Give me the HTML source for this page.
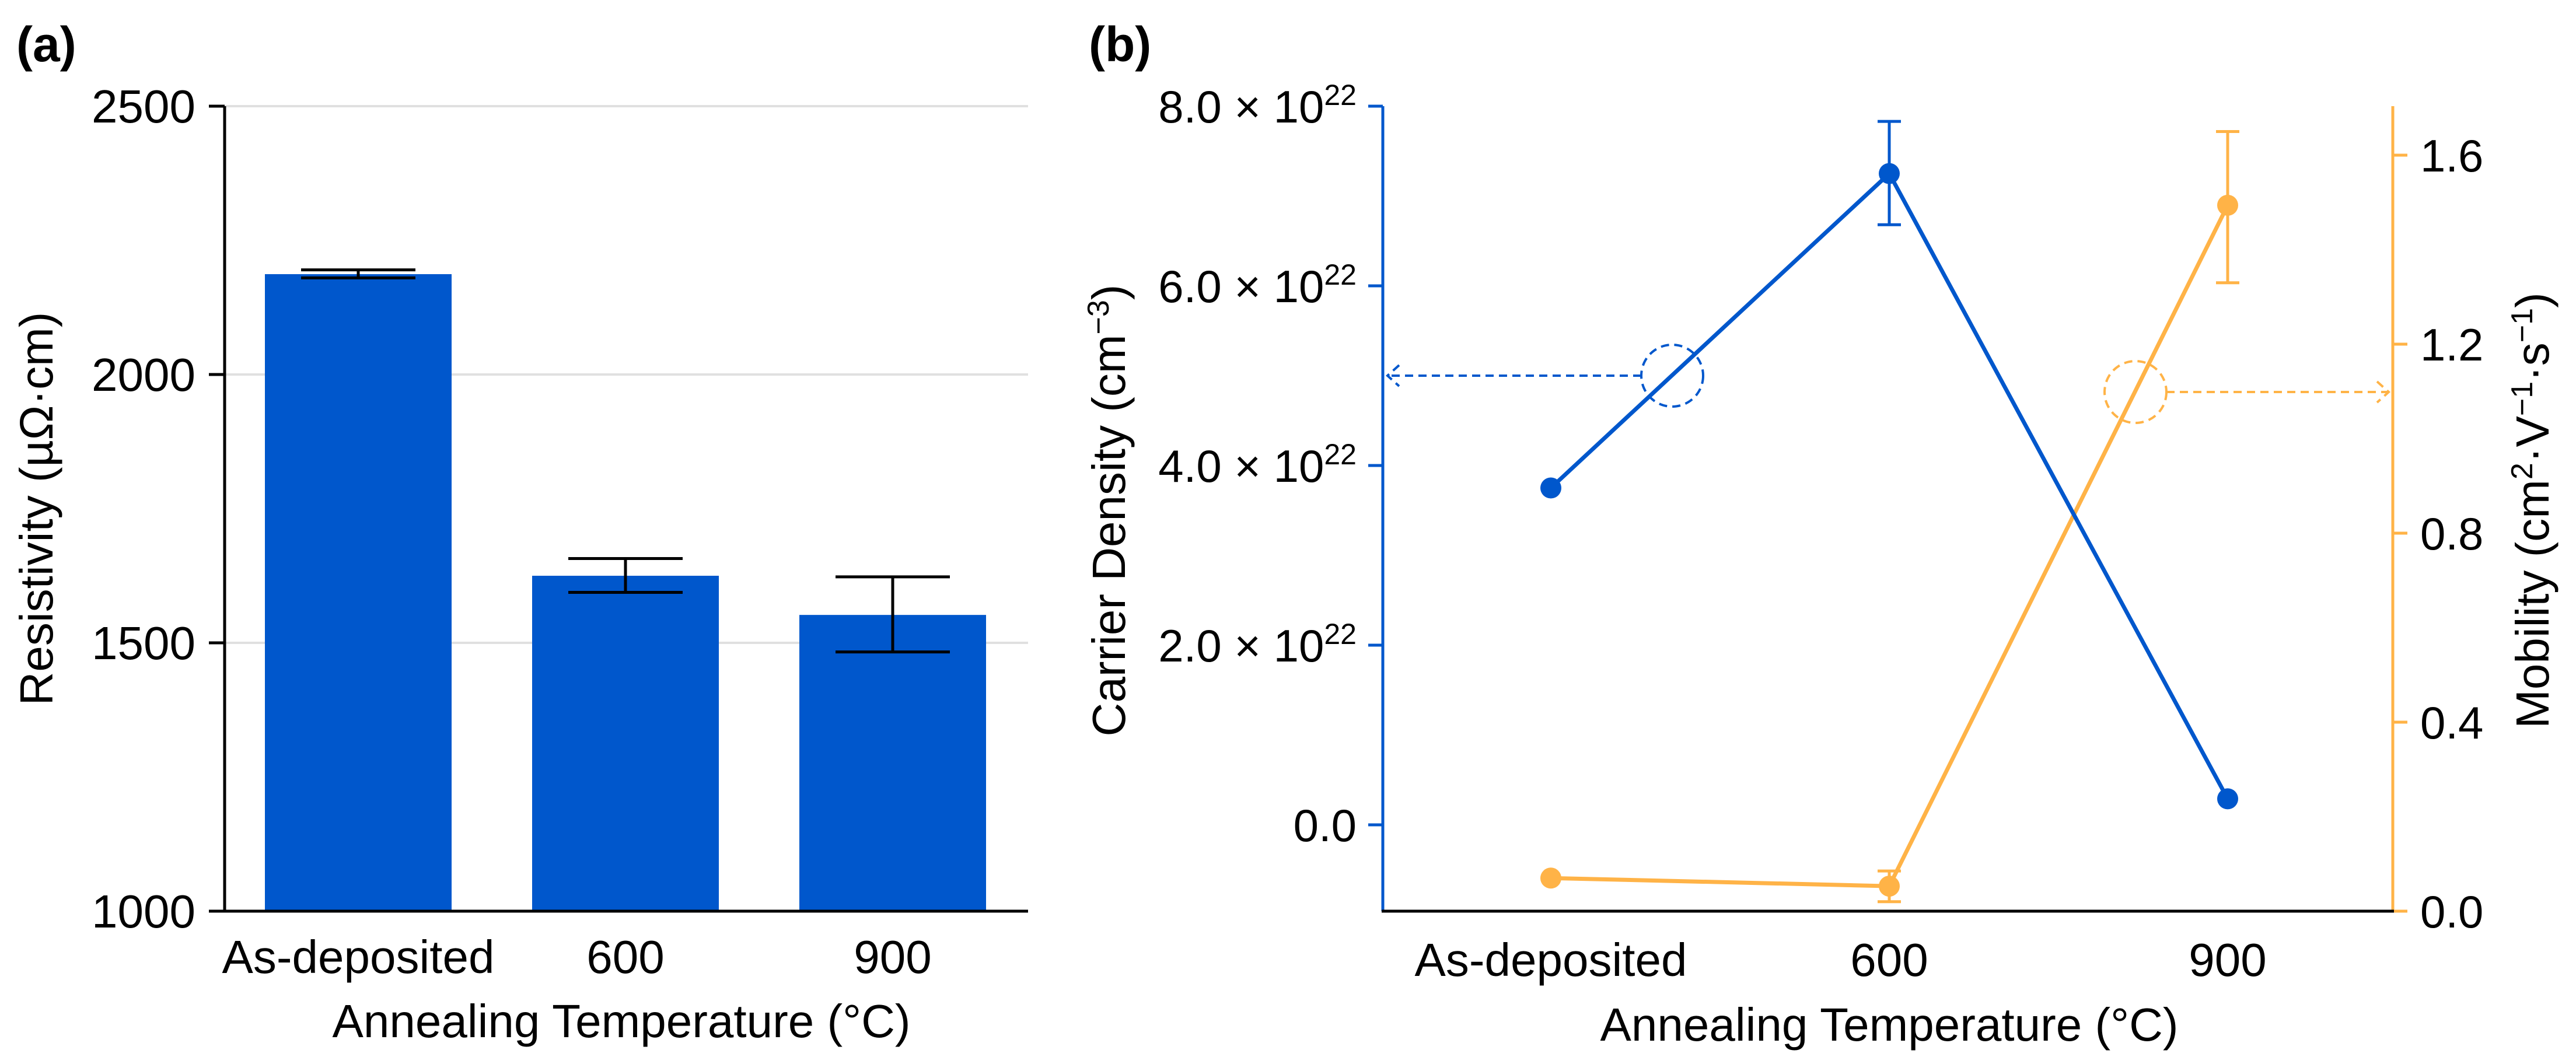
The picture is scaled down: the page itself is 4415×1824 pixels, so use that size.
<!DOCTYPE html>
<html><head><meta charset="utf-8"><style>
html,body{margin:0;padding:0;background:#fff}
svg text{font-family:"Liberation Sans",sans-serif}
</style></head><body>
<svg id="fig" xmlns="http://www.w3.org/2000/svg" width="4415" height="1819" viewBox="0 0 4415 1819">
<text x="28" y="105" font-size="84" font-weight="bold">(a)</text>
<text x="1866" y="105" font-size="84" font-weight="bold">(b)</text>
<g id="pa"></g>
<g id="pb"></g>
</svg>
<script>
const NS="http://www.w3.org/2000/svg";
const categories=["As-deposited","600","900"];
const resistivity=[2187,1625,1552];
const resErrHi=[2195,1657,1623];
const resErrLo=[2180,1594,1483];
const resTicks=[1000,1500,2000,2500];
const density=[3.75,7.25,0.29];
const densErrHi=[3.75,7.83,0.29];
const densErrLo=[3.75,6.68,0.29];
const densTicks=[0,2,4,6,8];
const mobility=[0.07,0.053,1.494];
const mobErrHi=[0.07,0.085,1.65];
const mobErrLo=[0.07,0.02,1.33];
const mobTicks=[0,0.4,0.8,1.2,1.6];
const BLUE="#0057cc",ORANGE="#ffb347";
function mk(p,tag,a,txt){const e=document.createElementNS(NS,tag);for(const k in a)e.setAttribute(k,a[k]);if(txt!==undefined)e.textContent=txt;p.appendChild(e);return e;}
// Panel a
const pa=document.getElementById('pa');
const ay=v=>1562-(v-1000)*(1562-182)/1500;
const ax=i=>614+i*458;
resTicks.forEach(t=>{
 if(t>1000){const g=mk(pa,'line',{x1:385,x2:1762,y1:ay(t),y2:ay(t),stroke:'#e0e0e0','stroke-width':4});
 }
 const tk=mk(pa,'line',{x1:358,x2:385,y1:ay(t),y2:ay(t),stroke:'#000','stroke-width':5});
 
 const l=mk(pa,'text',{x:335,y:ay(t)+28,'font-size':80,'text-anchor':'end'},String(t));
 
});
resistivity.forEach((v,i)=>{
 const b=mk(pa,'rect',{x:ax(i)-160,y:ay(v),width:320,height:1562-ay(v),fill:BLUE});
 
 const e=mk(pa,'path',{d:`M${ax(i)-98} ${ay(resErrHi[i])}H${ax(i)+98}M${ax(i)} ${ay(resErrHi[i])}V${ay(resErrLo[i])}M${ax(i)-98} ${ay(resErrLo[i])}H${ax(i)+98}`,stroke:'#000','stroke-width':5,fill:'none'});
 
 const l=mk(pa,'text',{x:ax(i),y:1668,'font-size':80,'text-anchor':'middle'},categories[i]);
 
});
let e1=mk(pa,'line',{x1:385,x2:385,y1:182,y2:1564,stroke:'#000','stroke-width':5});

e1=mk(pa,'line',{x1:358,x2:1762,y1:1562,y2:1562,stroke:'#000','stroke-width':5});

e1=mk(pa,'text',{x:1065,y:1778,'font-size':80,'text-anchor':'middle'},'Annealing Temperature (°C)');

e1=mk(pa,'text',{x:0,y:0,'font-size':80,'text-anchor':'middle',transform:'translate(90,872) rotate(-90)'},'Resistivity (µΩ·cm)');

// Panel b
const pb=document.getElementById('pb');
const bx=i=>2658+i*580;
const dy=v=>1414-v*154;
const my=v=>1562-v*810;
densTicks.forEach(t=>{
 const tk=mk(pb,'line',{x1:2345,x2:2370,y1:dy(t),y2:dy(t),stroke:BLUE,'stroke-width':5});
 
 const l=mk(pb,'text',{x:2325,y:dy(t)+28,'font-size':78,'text-anchor':'end'});
 
 if(t===0){l.textContent='0.0';}else{l.textContent=t.toFixed(1)+' × 10';const s=mk(l,'tspan',{dy:-30,'font-size':50},'22');}
});
mobTicks.forEach(t=>{
 const tk=mk(pb,'line',{x1:4101,x2:4126,y1:my(t),y2:my(t),stroke:ORANGE,'stroke-width':5});
 
 const l=mk(pb,'text',{x:4148,y:my(t)+28,'font-size':78},t.toFixed(1));
 
});
e1=mk(pb,'line',{x1:2370,x2:2370,y1:182,y2:1562,stroke:BLUE,'stroke-width':5});

e1=mk(pb,'line',{x1:4101,x2:4101,y1:182,y2:1562,stroke:ORANGE,'stroke-width':5});

e1=mk(pb,'line',{x1:2368,x2:4103,y1:1562,y2:1562,stroke:'#000','stroke-width':5});

function series(vals,hi,lo,yf,col,name){
 const ln=mk(pb,'polyline',{points:vals.map((v,i)=>bx(i)+','+yf(v)).join(' '),fill:'none',stroke:col,'stroke-width':7});
 
 vals.forEach((v,i)=>{
  if(hi[i]!==lo[i]){const e=mk(pb,'path',{d:`M${bx(i)-20} ${yf(hi[i])}H${bx(i)+20}M${bx(i)} ${yf(hi[i])}V${yf(lo[i])}M${bx(i)-20} ${yf(lo[i])}H${bx(i)+20}`,stroke:col,'stroke-width':5,fill:'none'});
  }
  const c=mk(pb,'circle',{cx:bx(i),cy:yf(v),r:18,fill:col});
  
 });
}
series(mobility,mobErrHi,mobErrLo,my,ORANGE,'mobility');
series(density,densErrHi,densErrLo,dy,BLUE,'carrier-density');
e1=mk(pb,'circle',{cx:2866,cy:644,r:53,fill:'none',stroke:BLUE,'stroke-width':4,'stroke-dasharray':'14 9'});

e1=mk(pb,'path',{d:'M2813 644H2378M2398 626L2378 644L2398 662',fill:'none',stroke:BLUE,'stroke-width':4,'stroke-dasharray':'14 9'});

e1=mk(pb,'circle',{cx:3660,cy:672,r:53,fill:'none',stroke:ORANGE,'stroke-width':4,'stroke-dasharray':'14 9'});

e1=mk(pb,'path',{d:'M3713 672H4094M4074 654L4094 672L4074 690',fill:'none',stroke:ORANGE,'stroke-width':4,'stroke-dasharray':'14 9'});

categories.forEach((c,i)=>{
 const l=mk(pb,'text',{x:bx(i),y:1673,'font-size':80,'text-anchor':'middle'},c);
 
});
e1=mk(pb,'text',{x:3238,y:1784,'font-size':80,'text-anchor':'middle'},'Annealing Temperature (°C)');

e1=mk(pb,'text',{x:0,y:0,'font-size':80,'text-anchor':'middle',transform:'translate(1928,875) rotate(-90)'});

e1.innerHTML='Carrier Density (cm<tspan dy="-28" font-size="52">−3</tspan><tspan dy="28">)</tspan>';
e1=mk(pb,'text',{x:0,y:0,'font-size':80,'text-anchor':'middle',transform:'translate(4368,875) rotate(-90)'});

e1.innerHTML='Mobility (cm<tspan dy="-28" font-size="52">2</tspan><tspan dy="28">·V</tspan><tspan dy="-28" font-size="52">−1</tspan><tspan dy="28">·s</tspan><tspan dy="-28" font-size="52">−1</tspan><tspan dy="28">)</tspan>';
</script>
</body></html>
